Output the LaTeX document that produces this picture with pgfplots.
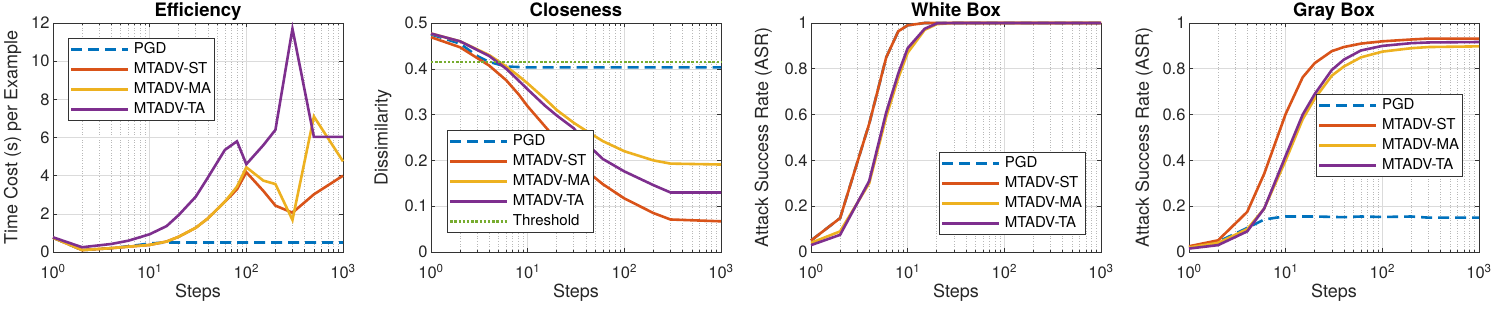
\documentclass[border=0pt]{standalone}
\usepackage{fontspec}
\setmainfont{TeX Gyre Heros}
\usepackage{pgfplots}
\pgfplotsset{compat=1.18}
\definecolor{mblue}{rgb}{0,0.447,0.741}
\definecolor{morange}{rgb}{0.85,0.325,0.098}
\definecolor{myellow}{rgb}{0.929,0.694,0.125}
\definecolor{mpurple}{rgb}{0.494,0.184,0.556}
\definecolor{mgreen}{rgb}{0.466,0.674,0.188}
\newcommand{\legfont}{\fontsize{15}{17}\selectfont}
\newcommand{\tkfont}{\fontsize{16.5}{18}\selectfont}
\pgfplotsset{
  every axis title shift=0pt,
  mstyle/.style={
    scale only axis, width=290pt, height=229pt,
    xmin=1, xmax=1000,
    xtick={1,10,100,1000},
    xticklabels={10\textsuperscript{0},10\textsuperscript{1},10\textsuperscript{2},10\textsuperscript{3}},
    minor xtick={2,3,4,5,6,7,8,9,20,30,40,50,60,70,80,90,200,300,400,500,600,700,800,900},
    xmajorgrids, ymajorgrids, xminorgrids,
    major grid style={line width=0.6pt, color=black!14},
    minor grid style={line width=0.6pt, color=black!28, dotted},
    tick align=inside, major tick length=4pt, minor tick length=2.5pt,
    axis line style={line width=0.8pt, black!80},
    every tick/.style={black!80, line width=0.6pt},
    label style={font=\fontsize{18}{20}\selectfont, text=black!85},
    title style={font=\bfseries\fontsize{18.5}{20}\selectfont, at={(axis description cs:0.5,1)}, anchor=base, yshift=6.3pt},
    xlabel style={at={(axis description cs:0.5,0)}, anchor=base, yshift=-45pt},
    clip=false,
  },
  mleg/.style={legend style={font=\legfont, draw=black!80, line width=0.7pt, fill=white,
      inner xsep=1.5pt, inner ysep=2pt, cells={anchor=west}, row sep=1.5pt, column sep=2.5pt,
      nodes={inner sep=2pt, text height=11pt, text depth=3.5pt}},
    legend image code/.code={\draw[##1] (0pt,0pt) -- (57pt,0pt);}},
  pgd/.style={mblue, line width=2.6pt, dash pattern=on 11pt off 6pt},
  st/.style={morange, line width=2.6pt},
  ma/.style={myellow, line width=2.6pt},
  ta/.style={mpurple, line width=2.6pt},
  thr/.style={mgreen, line width=2.6pt, dash pattern=on 2.4pt off 1.8pt},
}
\begin{document}
\begin{tikzpicture}
\useasboundingbox (0,0) rectangle (1495pt,313pt);
% Panel 1
\begin{axis}[xmode=log, mstyle, mleg, at={(53pt,61pt)}, anchor=south west,
  ymin=0, ymax=12, ytick={0,2,...,12},
  xticklabel style={font=\tkfont, text=black!85, yshift=-9pt},
  yticklabel style={font=\tkfont, text=black!85, /pgf/number format/assume math mode=true},
  title={Efficiency}, xlabel={Steps}, ylabel={Time Cost (s) per Example},
  ylabel style={at={(axis description cs:-0.123,0.5)}, anchor=base},
  legend style={at={(axis description cs:0.0517,0.9345)}, anchor=north west}]
\addplot[pgd] coordinates {(1,0.75)(2,0.1)(4,0.2)(6,0.3)(8,0.38)(10,0.45)(15,0.5)(20,0.5)(30,0.5)(40,0.5)(60,0.5)(80,0.5)(100,0.5)(150,0.5)(200,0.5)(300,0.5)(500,0.5)(1000,0.5)};
\addplot[st] coordinates {(1,0.75)(2,0.1)(4,0.2)(6,0.28)(8,0.33)(10,0.37)(15,0.55)(20,0.8)(30,1.27)(40,1.76)(60,2.64)(80,3.28)(100,4.18)(150,3.2)(200,2.43)(300,2.06)(500,3.02)(1000,4.0)};
\addplot[ma] coordinates {(1,0.75)(2,0.1)(4,0.2)(6,0.28)(8,0.33)(10,0.37)(15,0.55)(20,0.8)(30,1.27)(40,1.76)(60,2.64)(80,3.42)(100,4.44)(150,3.74)(200,3.56)(300,1.68)(500,7.1)(1000,4.75)};
\addplot[ta] coordinates {(1,0.77)(2,0.25)(4,0.42)(6,0.59)(8,0.78)(10,0.93)(15,1.36)(20,1.94)(30,2.9)(40,3.9)(60,5.35)(80,5.8)(100,4.6)(150,5.6)(200,6.4)(300,11.7)(500,6.03)(1000,6.03)};
\legend{PGD,MTADV-ST,MTADV-MA,MTADV-TA}
\end{axis}
% Panel 2
\begin{axis}[xmode=log, mstyle, mleg, at={(431pt,61pt)}, anchor=south west,
  ymin=0, ymax=0.5, ytick={0,0.1,0.2,0.3,0.4,0.5},
  xticklabel style={font=\tkfont, text=black!85, yshift=-9pt},
  yticklabel style={font=\tkfont, text=black!85, /pgf/number format/assume math mode=true},
  title={Closeness}, xlabel={Steps}, ylabel={Dissimilarity},
  ylabel style={at={(axis description cs:-0.150,0.5)}, anchor=base},
  legend style={at={(axis description cs:0.055,0.083)}, anchor=south west}]
\addplot[pgd] coordinates {(1,0.475)(2,0.455)(3,0.428)(4,0.415)(6,0.405)(10,0.403)(100,0.403)(1000,0.403)};
\addplot[st] coordinates {(1,0.469)(2,0.447)(4,0.407)(6,0.375)(8,0.345)(10,0.318)(15,0.275)(20,0.245)(30,0.205)(40,0.178)(60,0.148)(100,0.117)(200,0.085)(300,0.071)(1000,0.067)};
\addplot[ma] coordinates {(1,0.477)(2,0.46)(4,0.43)(6,0.405)(8,0.385)(10,0.368)(15,0.335)(20,0.31)(30,0.282)(40,0.265)(60,0.242)(100,0.22)(200,0.2)(300,0.193)(1000,0.191)};
\addplot[ta] coordinates {(1,0.477)(2,0.46)(4,0.428)(6,0.4)(8,0.375)(10,0.355)(15,0.32)(20,0.298)(30,0.27)(40,0.238)(60,0.203)(100,0.176)(200,0.146)(300,0.13)(1000,0.13)};
\addplot[thr] coordinates {(1,0.415)(1000,0.415)};
\legend{PGD,MTADV-ST,MTADV-MA,MTADV-TA,Threshold}
\end{axis}
% Panel 3
\begin{axis}[xmode=log, mstyle, mleg, at={(811pt,61pt)}, anchor=south west,
  ymin=0, ymax=1, ytick={0,0.2,0.4,0.6,0.8,1},
  xticklabel style={font=\tkfont, text=black!85, yshift=-9pt},
  yticklabel style={font=\tkfont, text=black!85, /pgf/number format/assume math mode=true},
  title={White Box}, xlabel={Steps}, ylabel={Attack Success Rate (ASR)},
  ylabel style={at={(axis description cs:-0.148,0.5)}, anchor=base},
  legend style={at={(axis description cs:0.948,0.074)}, anchor=south east}]
\addplot[pgd] coordinates {(1,0.05)(2,0.148)(4,0.56)(6,0.85)(8,0.964)(10,0.99)(15,1)(20,1)(30,1)(100,1)(1000,1)};
\addplot[st] coordinates {(1,0.05)(2,0.148)(4,0.56)(6,0.85)(8,0.964)(10,0.99)(15,1)(20,1)(30,1)(100,1)(1000,1)};
\addplot[ma] coordinates {(1,0.04)(2,0.09)(4,0.3)(6,0.59)(8,0.76)(10,0.87)(15,0.97)(20,0.995)(30,1)(100,1)(1000,1)};
\addplot[ta] coordinates {(1,0.03)(2,0.075)(4,0.31)(6,0.61)(8,0.78)(10,0.89)(15,0.975)(20,0.998)(30,1)(100,1)(1000,1)};
\legend{PGD,MTADV-ST,MTADV-MA,MTADV-TA}
\end{axis}
% Panel 4
\begin{axis}[xmode=log, mstyle, mleg, at={(1189pt,61pt)}, anchor=south west,
  ymin=0, ymax=1, ytick={0,0.2,0.4,0.6,0.8,1},
  xticklabel style={font=\tkfont, text=black!85, yshift=-9pt},
  yticklabel style={font=\tkfont, text=black!85, /pgf/number format/assume math mode=true},
  title={Gray Box}, xlabel={Steps}, ylabel={Attack Success Rate (ASR)},
  ylabel style={at={(axis description cs:-0.138,0.5)}, anchor=base},
  legend style={at={(axis description cs:0.945,0.69)}, anchor=north east}]
\addplot[pgd] coordinates {(1,0.02)(2,0.045)(4,0.105)(6,0.142)(8,0.15)(10,0.155)(20,0.155)(40,0.152)(60,0.155)(100,0.153)(200,0.155)(300,0.15)(1000,0.15)};
\addplot[st] coordinates {(1,0.025)(2,0.051)(4,0.175)(6,0.342)(10,0.603)(15,0.763)(20,0.825)(30,0.877)(40,0.895)(60,0.91)(100,0.92)(200,0.928)(300,0.932)(1000,0.932)};
\addplot[ma] coordinates {(1,0.02)(2,0.04)(4,0.1)(6,0.19)(10,0.4)(15,0.58)(20,0.67)(30,0.77)(40,0.81)(60,0.85)(100,0.875)(200,0.89)(300,0.895)(1000,0.898)};
\addplot[ta] coordinates {(1,0.015)(2,0.03)(4,0.09)(6,0.19)(10,0.42)(15,0.6)(20,0.69)(30,0.795)(40,0.84)(60,0.88)(100,0.9)(200,0.912)(300,0.915)(1000,0.917)};
\legend{PGD,MTADV-ST,MTADV-MA,MTADV-TA}
\end{axis}
\end{tikzpicture}
\end{document}
